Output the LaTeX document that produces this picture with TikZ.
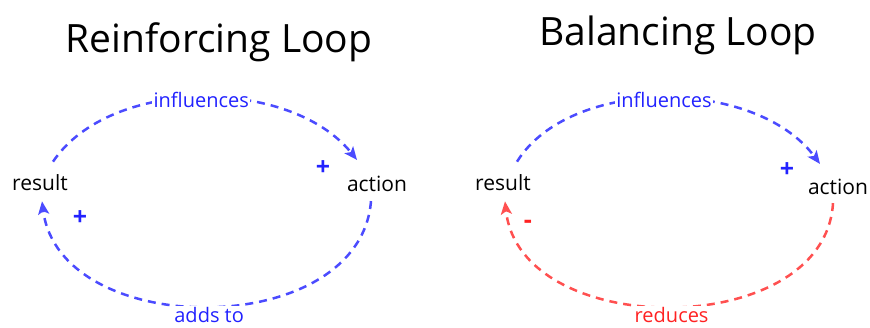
\documentclass[tikz,border=0pt]{standalone}
\usepackage{fontspec}
\setmainfont{Open Sans}
\usetikzlibrary{arrows.meta, positioning}
\definecolor{cblue}{HTML}{4B4BFF}
\definecolor{cdblue}{HTML}{2222FF}
\definecolor{cred}{HTML}{FF5050}
\definecolor{cdred}{HTML}{FF2222}
\tikzset{
  every picture/.style={line width=2.5pt},
  title/.style={font=\fontsize{39}{44}\selectfont},
  var/.style={font=\fontsize{21}{24}\selectfont, inner sep=2pt},
  link/.style={draw=#1, dash pattern=on 8pt off 6pt, -{Stealth[length=13pt, width=11pt, inset=3pt]}},
  tag/.style={font=\fontsize{20}{24}\selectfont, text=#1, fill=white, inner sep=1.5pt},
  sign/.style={font=\fontsize{25}{26}\selectfont\bfseries, text=#1},
}

\begin{document}
\begin{tikzpicture}[x=1pt, y=-1pt]
  \useasboundingbox (0,0) rectangle (870,327);
  % reinforcing loop
  \node[title] (rtitle) at (219,42) {Reinforcing Loop};
  \node[var] (rresult) at (40,183) {result};
  \node[var] (raction) at (377,184) {action};
  \draw[link=cblue] ([xshift=13pt, yshift=10pt]rresult.north) .. controls +(57,-85) and +(-67,-83) ..
    node[tag=cdblue, yshift=-2pt] (rinfl) {influences} ([xshift=-20pt, yshift=13pt]raction.north);
  \draw[link=cblue] ([xshift=-6pt, yshift=-6pt]raction.south) .. controls +(-11,140) and +(18,140) ..
    node[tag=cdblue, yshift=-9pt] (radds) {adds to} ([xshift=2pt, yshift=-7pt]rresult.south);
  \node[sign=cdblue] (rplusa) at (323,168) {+};
  \node[sign=cdblue] (rplusb) at (80,218) {+};
  % balancing loop
  \node[title] (btitle) at (678,35) {Balancing Loop};
  \node[var] (bresult) at (503,183) {result};
  \node[var] (baction) at (838,187) {action};
  \draw[link=cblue] ([xshift=14pt, yshift=10pt]bresult.north) .. controls +(53,-85) and +(-65,-87) ..
    node[tag=cdblue, yshift=-2pt] (binfl) {influences} ([xshift=-18pt, yshift=12pt]baction.north);
  \draw[link=cred] ([xshift=-5pt, yshift=-5pt]baction.south) .. controls +(-8,138) and +(15,140) ..
    node[tag=cdred, yshift=-9pt] (breduce) {reduces} ([xshift=2pt, yshift=-7pt]bresult.south);
  \node[sign=cdblue] (bplus) at (787,170) {+};
  \node[sign=cdred] (bminus) at (528,224) {-};
\end{tikzpicture}
\end{document}
